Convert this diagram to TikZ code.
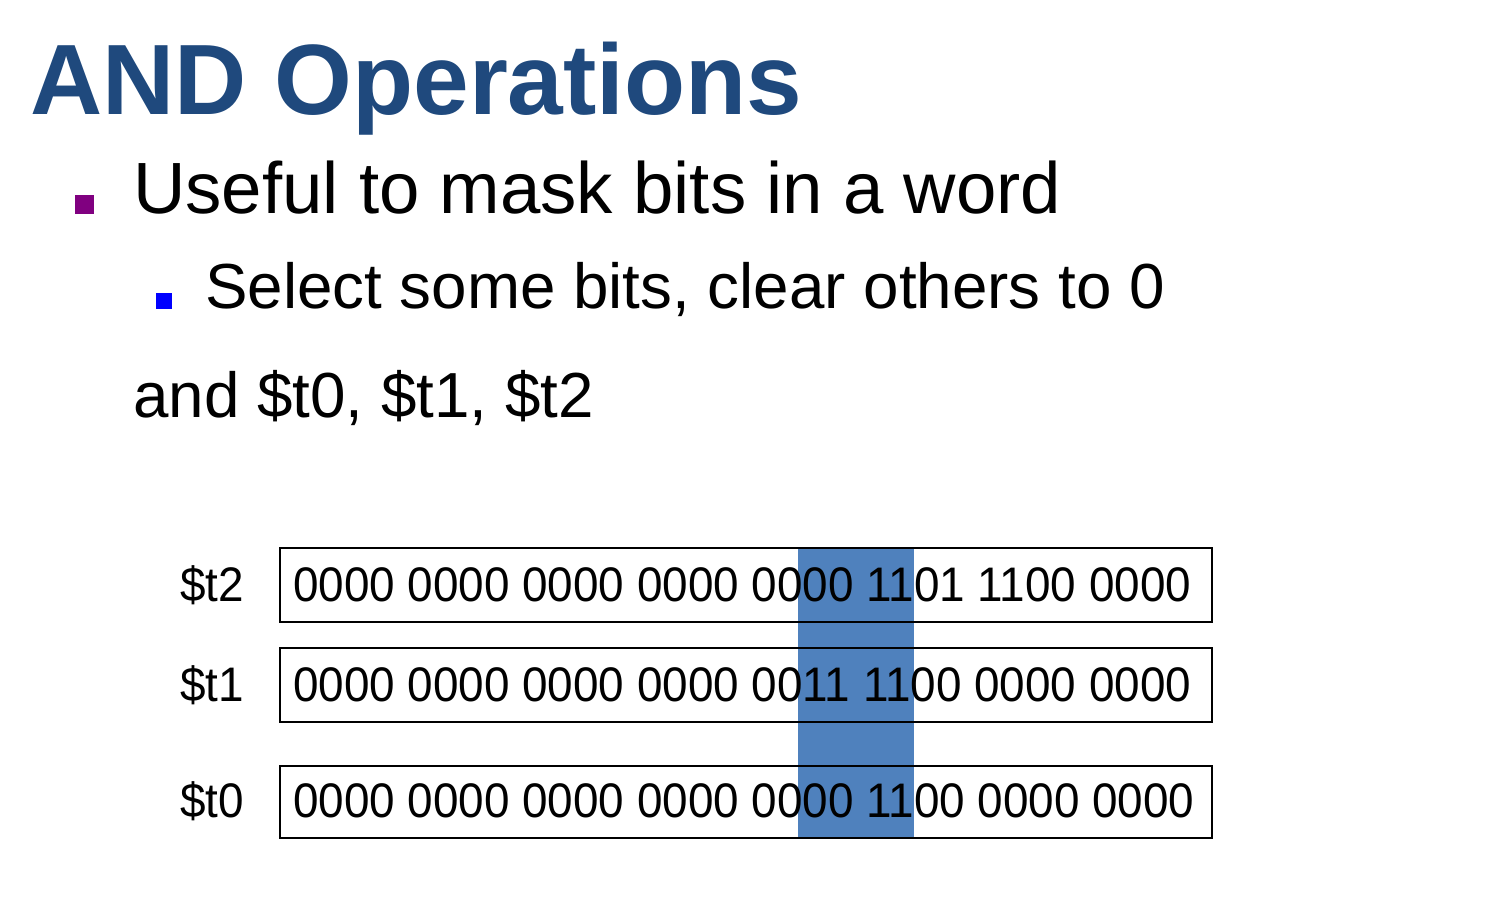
\documentclass[tikz,border=0pt]{standalone}
\usepackage{fontspec}
\setmainfont{Liberation Sans}
\newfontfamily\bitsfont[FakeStretch=0.945]{Liberation Sans}
\definecolor{titleblue}{RGB}{31,73,125}
\definecolor{bulletpurple}{RGB}{128,0,128}
\definecolor{bulletblue}{RGB}{0,0,255}
\definecolor{maskblue}{RGB}{79,129,189}
\begin{document}
\begin{tikzpicture}[x=1pt,y=-1pt,
  title/.style={anchor=base west,inner sep=0pt,text=titleblue,
    font=\bfseries\fontsize{100}{120}\selectfont},
  levelone/.style={anchor=base west,inner sep=0pt,
    font=\fontsize{72.6}{87}\selectfont},
  leveltwo/.style={anchor=base west,inner sep=0pt,
    font=\fontsize{63.7}{76}\selectfont},
  regname/.style={anchor=base west,inner sep=0pt,
    font=\bitsfont\fontsize{48.5}{58}\selectfont},
  bits/.style={anchor=base west,inner sep=0pt,
    font=\bitsfont\fontsize{48.5}{58}\selectfont},
  regbox/.style={draw=black,line width=2pt,anchor=north west,inner sep=0pt,
    minimum width=932,minimum height=74},
  bulletsq/.style={inner sep=0pt,anchor=north west}]
\useasboundingbox (0,0) rectangle (1498,904);

% heading and bullet text
\node[title] (head) at (30,115) {AND Operations};
\node[bulletsq,fill=bulletpurple,minimum size=19] (b1) at (75,195) {};
\node[levelone] (l1) at (133,214) {Useful to mask bits in a word};
\node[bulletsq,fill=bulletblue,minimum size=16] (b2) at (156,293) {};
\node[leveltwo] (l2) at (205,308) {Select some bits, clear others to 0};
\node[leveltwo] (instr) at (133,417) {and \$t0, \$t1, \$t2};

% highlighted bit field behind the registers
\fill[maskblue] (798,547) rectangle (914,837);

% register contents
\node[regbox] (t2box) at (279,547) {};
\node[regbox,minimum height=74] (t1box) at (279,647) {};
\node[regbox,minimum height=72] (t0box) at (279,765) {};

\node[regname] (t2name) at (180,601) {\$t2};
\node[regname] (t1name) at (180,701) {\$t1};
\node[regname] (t0name) at (180,817) {\$t0};

\node[bits] (t2bits) at (293,601) {0000 0000 0000 0000 0000 1101 1100 0000};
\node[bits] (t1bits) at (293,701) {0000 0000 0000 0000 0011 1100 0000 0000};
\node[bits] (t0bits) at (293,817) {0000 0000 0000 0000 0000 1100 0000 0000};
\end{tikzpicture}
\end{document}
